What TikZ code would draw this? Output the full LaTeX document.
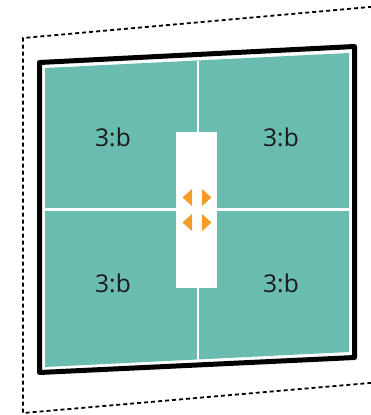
\documentclass[tikz,border=0pt]{standalone}
\usepackage{fontspec}
\setmainfont{Open Sans}
\definecolor{teal1}{RGB}{107,188,176}
\definecolor{orng}{RGB}{243,156,42}
\begin{document}
\begin{tikzpicture}[x=1pt,y=-1pt,
  lbl/.style={font=\fontsize{24.5}{28}\selectfont, text=black!90, inner sep=0pt},
  arr/.style={fill=orng, draw=none},
  divider/.style={draw=white, line width=2.6pt}]
\useasboundingbox (0,0) rectangle (370,415);
% dashed outline
\draw[line width=1.8pt, dash pattern=on 4pt off 3pt] (372,6.8) -- (23,38) -- (23,413) -- (372,382.8);
% teal area
\fill[teal1] (45,68) -- (349,53) -- (349,352) -- (45,367) -- cycle;
% dividers
\draw[divider] (198,60.5) -- (198,360);
\draw[divider] (45,209.5) -- (349,209.5);
% frame
\draw[line width=5pt, line join=round] (39.5,62.5) -- (354.5,46.5) -- (354.5,357.5) -- (39.5,372.5) -- cycle;
% center white panel
\fill[white] (176,132) rectangle (217,288);
% arrows
\fill[arr] (192,189) -- (192,206) -- (182.5,197.5) -- cycle;
\fill[arr] (202,189) -- (202,206) -- (211.5,197.5) -- cycle;
\fill[arr] (192,214) -- (192,231) -- (182.5,222.5) -- cycle;
\fill[arr] (202,214) -- (202,231) -- (211.5,222.5) -- cycle;
% labels
\node[lbl] (tl) at (113,137) {3:b};
\node[lbl] (tr) at (281,137) {3:b};
\node[lbl] (bl) at (113,283) {3:b};
\node[lbl] (br) at (281,283) {3:b};
\end{tikzpicture}
\end{document}
